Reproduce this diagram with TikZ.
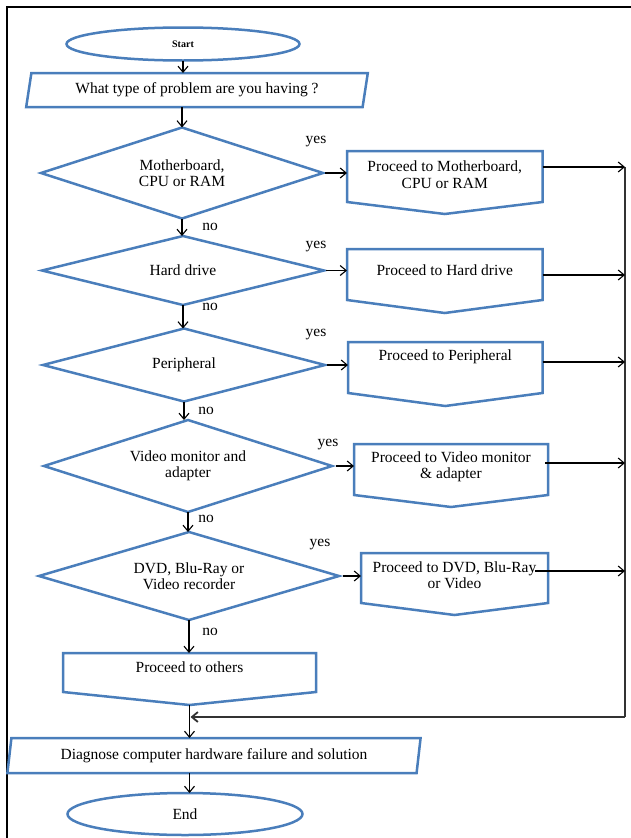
\documentclass[tikz,border=0pt]{standalone}
\usepackage{fontspec}
\setmainfont{Liberation Serif}
\usepackage{tikz}
\usetikzlibrary{shapes.geometric,arrows.meta,calc}
\definecolor{shapeblue}{HTML}{4A7EBB}

\begin{document}
\begin{tikzpicture}[
			x = 1pt, y = -1pt,
			>= {Straight Barb[length=6pt,width=10pt]},
			every node/.style = {font=\fontsize{15.5}{16.5}\selectfont, inner sep=0pt, outer sep=0pt, align=center},
			outline/.style = {draw=shapeblue, line width=2.5pt, line join=miter},
			terminal/.style = {outline, ellipse},
			io/.style = {outline, trapezium, trapezium left angle=75, trapezium right angle=105, trapezium stretches=true},
			decision/.style = {outline, diamond, aspect=3},
			procbox/.style = {rectangle},
			flow/.style = {->, line width=1.1pt},
			bus/.style = {line width=1.8pt, draw=black!80}]

			\useasboundingbox (0,0) rectangle (631,838);
			\draw[line width=2.5pt] (7,838) -- (7,7) -- (631,7);

			\node[terminal, minimum width=233pt, minimum height=33pt, font=\bfseries\fontsize{10}{10}\selectfont] (start) at (183,44) {Start};
			\node[io, minimum width=342pt, minimum height=34pt] (ask) at (197,90) {What type of problem are you having ?};

			\node[decision, minimum width=282pt, minimum height=91pt] (mb) at (182,173) {Motherboard,\\CPU or RAM};
			\node[decision, minimum width=282pt, minimum height=69pt] (hd) at (183,270.5) {Hard drive};
			\node[decision, minimum width=282pt, minimum height=73pt] (pe) at (184,365) {Peripheral};
			\node[decision, minimum width=288pt, minimum height=92pt] (vm) at (188,466) {Video monitor and\\adapter};
			\node[decision, minimum width=300pt, minimum height=88pt] (dvd) at (189,576) {DVD, Blu-Ray or\\Video recorder};

			\node[procbox, minimum width=195.5pt, minimum height=51pt, label={[yshift=2pt]center:{Proceed to Motherboard,\\CPU or RAM}}] (pmb) at (444.75,176.5) {};
			\node[procbox, minimum width=195.5pt, minimum height=51pt, label={[yshift=4.5pt]center:{Proceed to Hard drive}}] (phd) at (444.75,274.5) {};
			\node[procbox, minimum width=194.5pt, minimum height=51pt, label={[yshift=10.5pt]center:{Proceed to Peripheral}}] (ppe) at (445.25,367.5) {};
			\node[procbox, minimum width=194pt, minimum height=51pt, label={[yshift=2.5pt]center:{Proceed to Video monitor\\\& adapter}}] (pvm) at (451,469.5) {};
			\node[procbox, minimum width=187pt, minimum height=50pt, label={[yshift=3pt]center:{Proceed to DVD, Blu-Ray\\or Video}}] (pdvd) at (454.5,578) {};
			\node[procbox, minimum width=253pt, minimum height=39pt, label={[yshift=5.5pt]center:{Proceed to others}}] (poth) at (189.5,672.5) {};

			\foreach \b/\t in {pmb/12, phd/13, ppe/13, pvm/12, pdvd/12, poth/13}
				\draw[outline] (\b.north west) -- (\b.north east) -- (\b.south east) -- ($(\b.south)+(0,\t)$) -- (\b.south west) -- cycle;
			\coordinate (othtip) at ($(poth.south)+(0,13)$);

			\node[io, trapezium left angle=78, trapezium right angle=102, minimum width=414pt, minimum height=35pt] (diag) at (214,755.5) {Diagnose computer hardware failure and solution};
			\node[terminal, minimum width=235pt, minimum height=42pt] (theend) at (185,814) {End};

			\node (yes1) at (316,142) {yes};
			\node (yes2) at (316,247) {yes};
			\node (yes3) at (316,335) {yes};
			\node (yes4) at (328,445) {yes};
			\node (yes5) at (320,545) {yes};
			\node (no1) at (210,227) {no};
			\node (no2) at (210,307) {no};
			\node (no3) at (206,411) {no};
			\node (no4) at (206,519) {no};
			\node (no5) at (210,632) {no};

			\draw[flow] (start.south) -- (start.south |- ask.north);
			\draw[flow] (mb.north |- ask.south) -- (mb.north);
			\draw[flow] (mb.south) -- (mb.south |- hd.north);
			\draw[flow] (hd.south) -- (hd.south |- pe.north);
			\draw[flow] (pe.south) -- (pe.south |- vm.north);
			\draw[flow] (vm.south) -- (vm.south |- dvd.north);
			\draw[flow] (dvd.south) -- (dvd.south |- poth.north);

			\draw[flow] ([xshift=2pt]mb.east) -- (mb.east -| pmb.west);
			\draw[flow] ([xshift=2pt]hd.east) -- (hd.east -| phd.west);
			\draw[flow] ([xshift=2pt]pe.east) -- (pe.east -| ppe.west);
			\draw[flow] ([xshift=4pt]vm.east) -- (vm.east -| pvm.west);
			\draw[flow] ([xshift=4pt]dvd.east) -- (dvd.east -| pdvd.west);

			\coordinate (bus1) at (625,167);
			\coordinate (bus2) at (625,275);
			\coordinate (bus3) at (625,362);
			\coordinate (bus4) at (625,463);
			\coordinate (bus5) at (625,571);
			\coordinate (busend) at (625,717);

			\draw[bus] (bus1) -- (busend);
			\draw[bus, ->, shorten >=1pt] (busend) -- (busend -| othtip);
			\draw[flow] (bus1 -| pmb.east) -- (bus1);
			\draw[flow] (bus2 -| phd.east) -- (bus2);
			\draw[flow] (bus3 -| ppe.east) -- (bus3);
			\draw[flow] ([xshift=-3pt]bus4 -| pvm.east) -- (bus4);
			\draw[flow] ([xshift=-13pt]bus5 -| pdvd.east) -- (bus5);

			\draw[flow] (othtip) -- (othtip |- diag.north);
			\draw[flow] (othtip |- diag.south) -- (othtip |- theend.north);

		\end{tikzpicture}
\end{document}
